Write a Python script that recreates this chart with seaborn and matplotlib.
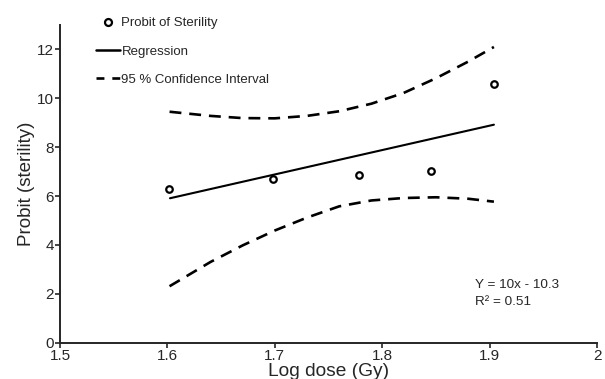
import matplotlib
matplotlib.use("Agg")
import matplotlib.pyplot as plt
import seaborn as sns
import pandas as pd
from matplotlib.lines import Line2D

sns.set_style("ticks")
plt.rcParams['font.family'] = ['Liberation Sans', 'DejaVu Sans']

# Data
dose = [1.6015, 1.698, 1.778, 1.8455, 1.904]
probit = [6.27, 6.69, 6.86, 7.03, 10.57]

reg_x = [1.6024, 1.904]
reg_y = [5.91, 8.92]

ci_x = [1.602, 1.64, 1.67, 1.70, 1.73, 1.76, 1.79, 1.82, 1.85, 1.88, 1.904]
ci_upper = [9.45, 9.28, 9.19, 9.18, 9.28, 9.47, 9.78, 10.22, 10.82, 11.5, 12.1]
ci_lower = [2.31, 3.30, 3.98, 4.59, 5.12, 5.58, 5.82, 5.92, 5.95, 5.89, 5.77]

xticks = [1.5, 1.6, 1.7, 1.8, 1.9, 2.0]
xtick_labels = ["1.5", "1.6", "1.7", "1.8", "1.9", "2"]
yticks = [0, 2, 4, 6, 8, 10, 12]

fig = plt.figure(figsize=(6.05, 3.79), dpi=100)
ax = fig.add_axes([0.0992, 0.0958, 0.8876, 0.8383])

df_ci = pd.DataFrame({"x": ci_x, "up": ci_upper, "lo": ci_lower})
df_reg = pd.DataFrame({"x": reg_x, "y": reg_y})
df_pts = pd.DataFrame({"x": dose, "y": probit})

dash = (4.5, 3)
sns.lineplot(data=df_ci, x="x", y="up", ax=ax, color="black", linewidth=1.9,
             estimator=None, sort=False)
sns.lineplot(data=df_ci, x="x", y="lo", ax=ax, color="black", linewidth=1.9,
             estimator=None, sort=False)
for ln in ax.lines:
    ln.set_dashes(dash)
sns.lineplot(data=df_reg, x="x", y="y", ax=ax, color="black", linewidth=1.5,
             estimator=None, sort=False)
sns.scatterplot(data=df_pts, x="x", y="y", ax=ax, s=22, facecolor="white",
                edgecolor="black", linewidth=1.6, zorder=5)

ax.set_xlim(1.5, 2.0)
ax.set_ylim(0, 13)
ax.set_xticks(xticks)
ax.set_xticklabels(xtick_labels)
ax.set_yticks(yticks)
ax.tick_params(axis="both", labelsize=11, length=3.5, width=1.2, pad=1)
sns.despine(ax=ax)
for s in ["left", "bottom"]:
    ax.spines[s].set_linewidth(1.4)

ax.set_xlabel("Log dose (Gy)", fontsize=13.8, labelpad=0)
ax.set_ylabel("Probit (sterility)", fontsize=13.5, labelpad=1)

ax.text(1.8864, 2.35, "Y = 10x - 10.3", fontsize=9.7, va="center", ha="left")
ax.text(1.8864, 1.66, "R² = 0.51", fontsize=9.7, va="center", ha="left")

handles = [
    Line2D([], [], marker="o", linestyle="none", markerfacecolor="white",
           markeredgecolor="black", markeredgewidth=1.6, markersize=5),
    Line2D([], [], color="black", linewidth=1.8),
    Line2D([], [], color="black", linewidth=1.9, dashes=(3, 3)),
]
labels = ["Probit of Sterility", "Regression", "95 % Confidence Interval"]
fig.legend(handles, labels, loc="upper left", bbox_to_anchor=(0.143, 0.979),
           frameon=False, fontsize=9.5, handlelength=1.8, handletextpad=0.15,
           labelspacing=1.2, borderaxespad=0.3)

fig.savefig("out.png", dpi=100)
